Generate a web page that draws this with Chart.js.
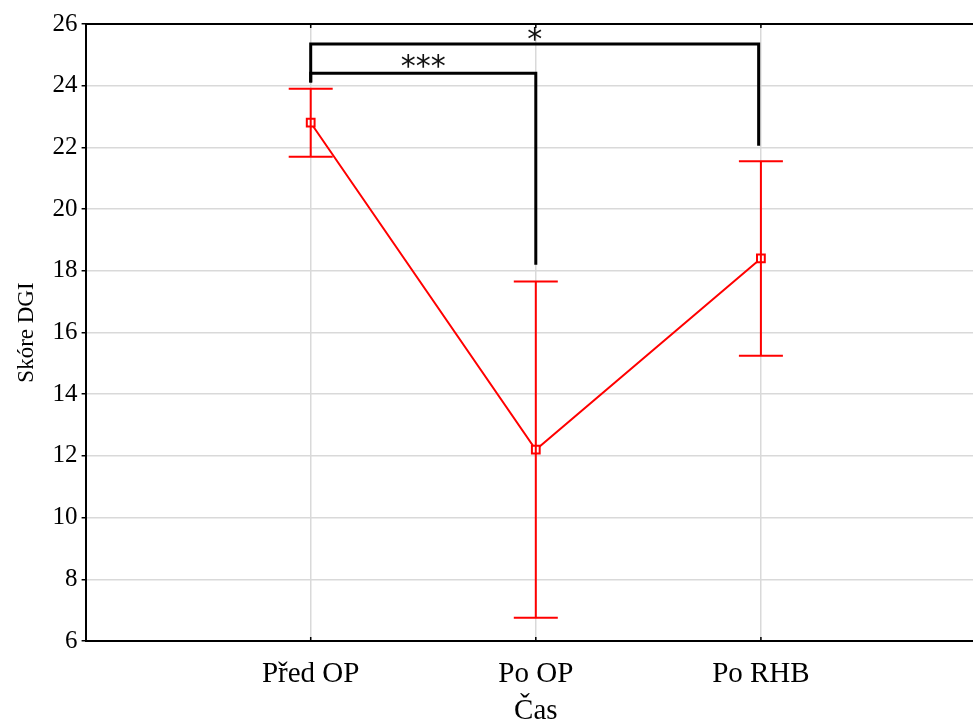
<!DOCTYPE html>
<html>
<head>
<meta charset="utf-8">
<script src="https://cdn.jsdelivr.net/npm/chart.js@4/dist/chart.umd.min.js"></script>
<style>
  html, body { margin: 0; padding: 0; background: #fff; overflow: hidden; }
  #wrap { width: 973px; height: 720px; overflow: hidden; }
  canvas { display: block; }
</style>
</head>
<body>
<div id="wrap"><canvas id="chart" width="1008" height="720"></canvas></div>
<script>
var cats = ['Před OP', 'Po OP', 'Po RHB'];
var means = [22.8, 12.2, 18.4];
var upper = [23.9, 17.65, 21.55];
var lower = [21.7, 6.75, 15.25];

// significance brackets: [x from, x to, top y, left leg end, right leg end, label]
var brackets = [
  [0, 1.99, 25.35, 24.1, 22.05, '*'],
  [0, 1, 24.4, 24.1, 18.2, '***']
];

var serif = "'Liberation Serif', 'Times New Roman', serif";

var extras = {
  id: 'extras',
  afterDatasetsDraw: function (chart) {
    var ctx = chart.ctx, x = chart.scales.x, y = chart.scales.y, a = chart.chartArea;
    ctx.save();
    // error bars
    ctx.strokeStyle = '#ff0000';
    ctx.lineWidth = 2;
    for (var i = 0; i < means.length; i++) {
      var px = x.getPixelForValue(i);
      var pt = y.getPixelForValue(upper[i]), pb = y.getPixelForValue(lower[i]);
      ctx.beginPath();
      ctx.moveTo(px, pt); ctx.lineTo(px, pb);
      ctx.moveTo(px - 22, pt); ctx.lineTo(px + 22, pt);
      ctx.moveTo(px - 22, pb); ctx.lineTo(px + 22, pb);
      ctx.stroke();
    }
    // brackets
    ctx.strokeStyle = '#000';
    ctx.lineWidth = 3;
    ctx.fillStyle = '#111';
    ctx.font = "30px 'DejaVu Sans', sans-serif";
    ctx.textAlign = 'center';
    ctx.textBaseline = 'middle';
    brackets.forEach(function (b) {
      var x1 = x.getPixelForValue(b[0]), x2 = x.getPixelForValue(b[1]);
      var yt = y.getPixelForValue(b[2]);
      ctx.beginPath();
      ctx.moveTo(x1, y.getPixelForValue(b[3]));
      ctx.lineTo(x1, yt);
      ctx.lineTo(x2, yt);
      ctx.lineTo(x2, y.getPixelForValue(b[4]));
      ctx.stroke();
      ctx.fillText(b[5], (x1 + x2) / 2, yt - (b[5].length > 1 ? 5 : 3));
    });
    // frame top / right
    ctx.lineWidth = 2;
    ctx.beginPath();
    ctx.moveTo(a.left, a.top); ctx.lineTo(a.right, a.top); ctx.lineTo(a.right, a.bottom);
    ctx.stroke();
    // small ticks at top and bottom of category lines
    ctx.lineWidth = 1.5;
    for (var j = 0; j < cats.length; j++) {
      var tx = x.getPixelForValue(j);
      ctx.beginPath();
      ctx.moveTo(tx, a.top); ctx.lineTo(tx, a.top + 4);
      ctx.moveTo(tx, a.bottom); ctx.lineTo(tx, a.bottom - 4);
      ctx.stroke();
    }
    ctx.restore();
  }
};

new Chart(document.getElementById('chart'), {
  type: 'line',
  data: {
    datasets: [{
      data: means.map(function (v, i) { return { x: i, y: v }; }),
      borderColor: '#ff0000',
      borderWidth: 2,
      backgroundColor: '#ffffff',
      pointStyle: 'rect',
      pointRadius: 5.5,
      pointBorderWidth: 2,
      pointBorderColor: '#ff0000',
      pointBackgroundColor: '#ffffff',
      fill: false,
      tension: 0
    }]
  },
  plugins: [extras],
  options: {
    responsive: false,
    animation: false,
    layout: { padding: { top: 24, right: 5, left: 13, bottom: -4 } },
    plugins: {
      legend: { display: false },
      tooltip: { enabled: false }
    },
    scales: {
      x: {
        type: 'linear',
        min: -1,
        max: 3,
        afterBuildTicks: function (s) { s.ticks = [-1, 0, 1, 2, 3].map(function (v) { return { value: v }; }); },
        ticks: {
          autoSkip: false,
          maxRotation: 0,
          padding: 22,
          color: '#000',
          font: { family: serif, size: 29, lineHeight: 0.8 },
          callback: function (v) { return cats[v] !== undefined ? cats[v] : ''; }
        },
        grid: { color: '#d9d9d9', lineWidth: 1.5, drawTicks: false },
        border: { color: '#000', width: 2 },
        title: {
          display: true,
          text: 'Čas',
          color: '#000',
          font: { family: serif, size: 29, lineHeight: 0.2 },
          padding: { top: 0, bottom: 10 }
        }
      },
      y: {
        min: 6,
        max: 26,
        ticks: {
          stepSize: 2,
          padding: 4,
          color: '#000',
          font: { family: serif, size: 25 }
        },
        grid: { color: '#d9d9d9', lineWidth: 1.5, tickLength: 4, tickColor: '#000', tickWidth: 1.5 },
        border: { color: '#000', width: 2 },
        title: {
          display: true,
          text: 'Skóre DGI',
          color: '#000',
          font: { family: serif, size: 23 },
          padding: { top: 0, bottom: 8 }
        }
      }
    }
  }
});
</script>
</body>
</html>
